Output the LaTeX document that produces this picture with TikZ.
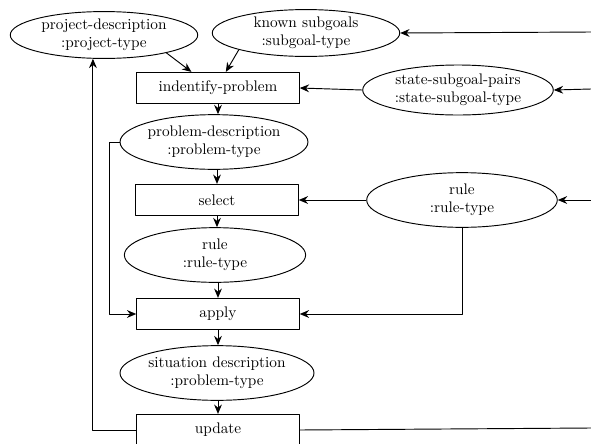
\documentclass[tikz,border=0pt]{standalone}
\usetikzlibrary{shapes.geometric,arrows.meta}
\begin{document}
\begin{tikzpicture}[x=0.64pt,y=-0.64pt,line join=round,semithick,>={Stealth[length=6pt,width=5pt,inset=2pt]},
  data/.style={draw,ellipse,inner sep=0pt,align=center,minimum width=120pt,minimum height=30pt,font=\fontsize{9.8}{11.7}\selectfont},
  proc/.style={draw,rectangle,inner sep=0pt,minimum width=104pt,minimum height=20pt,font=\fontsize{9.8}{11.7}\selectfont}]
\useasboundingbox (0,0) rectangle (591,444);
% data objects
\node[data] (pd) at (104,35) {project-description\\:project-type};
\node[data] (ks) at (306,33) {known subgoals\\:subgoal-type};
\node[data,minimum width=122pt,minimum height=32pt] (ss) at (458,90) {state-subgoal-pairs\\:state-subgoal-type};
\node[data,minimum width=115pt,minimum height=35pt] (prob) at (214,142) {problem-description\\:problem-type};
\node[data,minimum width=116pt,minimum height=35pt] (rule) at (215,255) {rule\\:rule-type};
\node[data,minimum width=122pt,minimum height=35pt] (rr) at (462,200) {rule\\:rule-type};
\node[data,minimum width=122pt,minimum height=35pt] (sit) at (217,373) {situation description\\:problem-type};
% processes
\node[proc] (ip) at (218,88) {indentify-problem};
\node[proc] (sel) at (217,200) {select};
\node[proc] (ap) at (218,314) {apply};
\node[proc] (up) at (218,430) {update};
% free ends on the right
\coordinate (ksin) at (591,32);
\coordinate (ssin) at (591,89);
\coordinate (rrin) at (591,200);
\coordinate (upout) at (591,428);
% connectors
\draw[->] (pd.-16) -- ([xshift=-17pt]ip.north);
\draw[->] (ks.194) -- ([xshift=5pt]ip.north);
\draw[->] (ksin) -- (ks.east);
\draw[->] (ssin) -- (ss.east);
\draw[->] (ss.west) -- (ip.east);
\draw[->] (ip.south) -- (ip.south |- prob.north);
\draw[->] (prob.south -| sel.north) -- (sel.north);
\draw[->] (prob.west) -- ++(-10,0) |- (ap.west);
\draw[->] (rrin) -- (rr.east);
\draw[->] (rr.west) -- (sel.east);
\draw[->] (sel.south) -- (sel.south |- rule.north);
\draw[->] (rule.south -| ap.north) -- (ap.north);
\draw[->] (rr.south) |- (ap.east);
\draw[->] (ap.south) -- (ap.south |- sit.north);
\draw[->] (sit.south -| up.north) -- (up.north);
\draw[->] (up.west) -| (pd.245);
\draw (up.east) -- (upout);
\end{tikzpicture}
\end{document}
